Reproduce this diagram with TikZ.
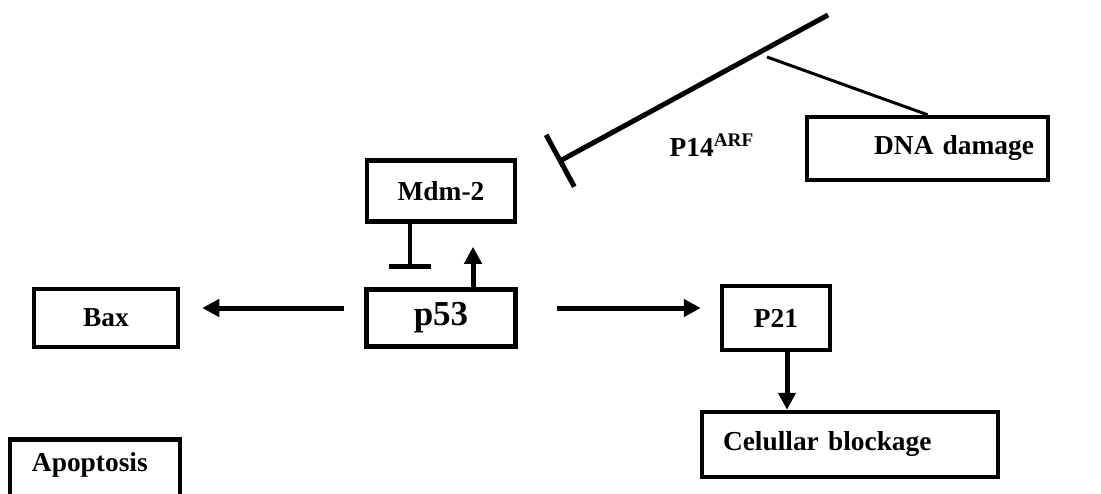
\documentclass[tikz,border=0pt]{standalone}
\usepackage{fontspec}
\setmainfont{Liberation Serif}
\usetikzlibrary{arrows.meta}

\begin{document}
\begin{tikzpicture}[x=0.5pt,y=-0.5pt,
    box/.style={draw,line width=2.25pt,inner sep=0pt,font=\fontsize{13.7}{16}\selectfont\bfseries},
    act/.style={line width=2.5pt,-{Triangle[length=8.5pt,width=8.5pt]}},
    inh/.style={line width=2.25pt,-{Bar[width=21pt]}}]
\useasboundingbox (0,0) rectangle (1101,493);
\clip (0,0) rectangle (1101,493);
\node[box,minimum width=74pt,minimum height=30.5pt] at (441,191) (mdm) {Mdm-2};
\node[box,minimum width=74.5pt,minimum height=28.5pt,font=\fontsize{17.5}{21}\selectfont\bfseries] at (441,318) (p53) {p53};
\node[box,minimum width=72pt,minimum height=29pt] at (106,318) (bax) {Bax};
\node[box,minimum width=54pt,minimum height=32pt] at (776,318) (p21) {P21};
\node[box,minimum height=32.5pt,inner xsep=10.5pt,text width=127pt,align=left] at (850,444.5) (cell) {Celullar blockage};
\node[box,minimum height=31.5pt,inner xsep=7pt,text width=106.5pt,align=right] at (927.5,148.5) (dna) {DNA damage};
\node[box,anchor=north,minimum height=32pt,inner xsep=11pt,text width=63pt,align=left,text height=9pt,text depth=8.4pt] at (95,437) (apop) {Apoptosis};
\node[font=\fontsize{13.7}{16}\selectfont\bfseries] at (712,145) (arf) {P14\textsuperscript{ARF}};
\coordinate (arftop) at (828,15);
\coordinate (arfend) at (558,162);
\coordinate (dnaend) at (767,57);
\draw[inh,line width=2.5pt,-{Bar[width=29.5pt]}] (arftop) -- (arfend);
\draw[line width=1.5pt] (dna.north) -- (dnaend);
\draw[inh] ([xshift=-15.5pt]mdm.south) -- ++(0,45);
\draw[act,shorten >=11.5pt] ([xshift=16pt]p53.north) -- ([xshift=16pt]p53.north |- mdm.south);
\draw[act,shorten <=10pt,shorten >=11pt] ([yshift=5pt]p53.west) -- ([yshift=5pt]bax.east);
\draw[act,shorten <=19.5pt,shorten >=9.5pt] ([yshift=5pt]p53.east) -- ([yshift=5pt]p21.west);
\draw[act] ([xshift=5.5pt]p21.south) -- ([xshift=5.5pt]p21.south |- cell.north);
\end{tikzpicture}
\end{document}
